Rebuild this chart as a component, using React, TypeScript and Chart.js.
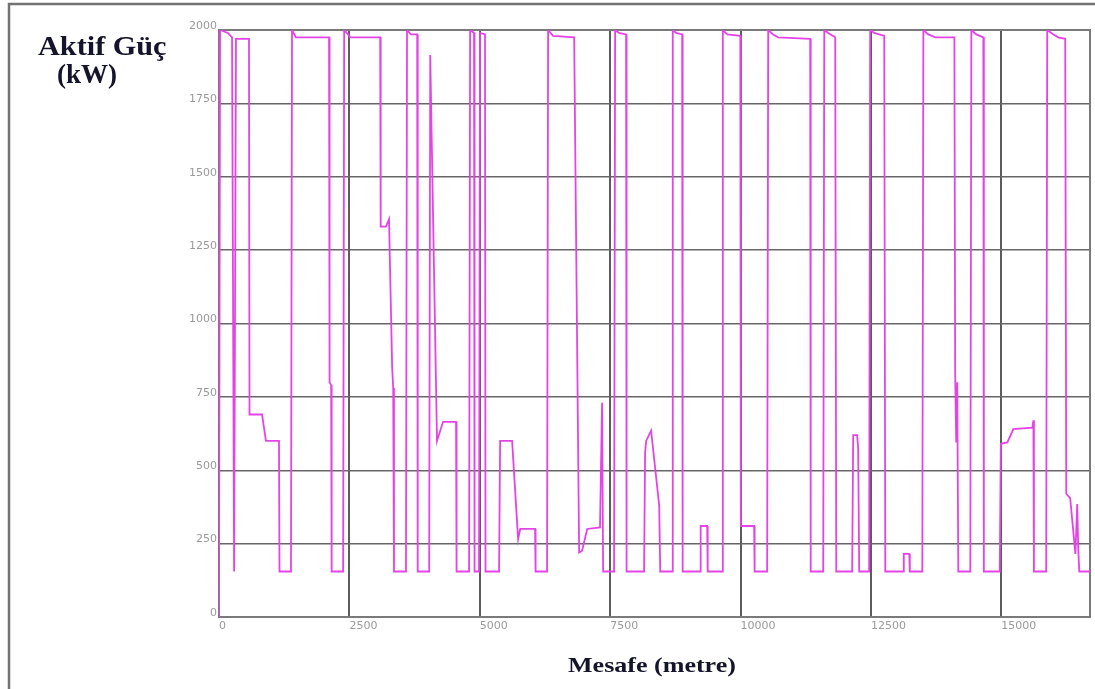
import React, { useEffect, useRef } from "react";
import { Chart, registerables } from "chart.js";

Chart.register(...registerables);

// Distance along the route (metre)
const distanceM = [
  0, 20, 170, 250, 290, 305, 325, 575, 585, 825, 900, 1150, 1160, 1380, 1400, 1475,
  2110, 2120, 2150, 2160, 2380, 2400, 2475, 2510, 3090, 3100, 3200, 3260, 3320, 3340,
  3355, 3585, 3605, 3680, 3800, 3810, 4030, 4050, 4180, 4295, 4545, 4555, 4795, 4815,
  4890, 4900, 4985, 5005, 5100, 5110, 5370, 5390, 5620, 5735, 5775, 6060, 6070, 6290,
  6310, 6405, 6810, 6905, 6960, 7060, 7305, 7345, 7365, 7575, 7595, 7670, 7805, 7815,
  8150, 8170, 8190, 8285, 8440, 8460, 8690, 8700, 8765, 8880, 8890, 9225, 9235, 9360,
  9370, 9650, 9660, 9745, 9995, 10005, 10260, 10270, 10510, 10530, 10625, 10720, 11335,
  11345, 11585, 11605, 11680, 11815, 11835, 12140, 12160, 12235, 12255, 12275, 12465,
  12485, 12565, 12755, 12775, 13120, 13130, 13235, 13245, 13485, 13505, 13600, 13735,
  14100, 14115, 14135, 14155, 14175, 14405, 14425, 14520, 14655, 14665, 14970, 14990,
  15115, 15230, 15595, 15615, 15625, 15860, 15880, 16000, 16090, 16225, 16245, 16320,
  16420, 16455, 16475, 16495, 16700,
];

// Active power (kW)
const activePowerKW = [
  0, 2000, 1990, 1975, 155, 155, 1970, 1970, 690, 690, 600, 600, 155, 155, 2000, 1975,
  1975, 800, 790, 155, 155, 2000, 1985, 1975, 1975, 1330, 1330, 1355, 850, 780,
  155, 155, 2000, 1985, 1985, 155, 155, 1915, 600, 665, 665, 155, 155, 2000,
  1990, 155, 155, 1990, 1985, 155, 155, 600, 600, 265, 300, 300, 155, 155,
  2000, 1980, 1975, 220, 225, 300, 305, 730, 155, 155, 2000, 1990, 1985, 155,
  155, 560, 600, 635, 380, 155, 155, 2000, 1990, 1985, 155, 155, 310, 310,
  155, 155, 2000, 1985, 1980, 310, 310, 155, 155, 2000, 1985, 1975, 1970,
  155, 155, 2000, 1990, 1975, 155, 155, 620, 620, 575, 155, 155,
  2000, 1990, 1980, 155, 155, 215, 215, 155, 155, 2000, 1985, 1975,
  1975, 830, 595, 800, 155, 155, 2000, 1985, 1975, 155, 155, 590,
  595, 640, 645, 670, 155, 155, 2000, 1985, 1975, 1970, 420, 405,
  215, 385, 230, 155, 155,
];

const xTickValues = [0, 2500, 5000, 7500, 10000, 12500, 15000];
const yTickValues = [0, 250, 500, 750, 1000, 1250, 1500, 1750, 2000];
const xMax = 16700;
const yMax = 2000;

const yTitleLines = ["Aktif Güç", "(kW)"];
const xTitle = "Mesafe (metre)";

function stretchedText(
  ctx: CanvasRenderingContext2D,
  text: string,
  x: number,
  y: number,
  font: string,
  sx: number
) {
  ctx.save();
  ctx.font = font;
  ctx.translate(x, y);
  ctx.scale(sx, 1);
  ctx.fillText(text, 0, 0);
  ctx.restore();
}

export default function App() {
  const canvasRef = useRef<HTMLCanvasElement>(null);

  useEffect(() => {
    if (!canvasRef.current) return;

    const framePlugin = {
      id: "framePlugin",
      beforeDatasetsDraw(chart: any) {
        const { ctx, chartArea: a } = chart;
        ctx.save();
        ctx.strokeStyle = "#7a7a7a";
        ctx.lineWidth = 2;
        ctx.strokeRect(a.left, a.top, a.right - a.left, a.bottom - a.top);
        ctx.restore();
      },
      afterDraw(chart: any) {
        const { ctx } = chart;
        ctx.save();
        // outer picture frame
        ctx.strokeStyle = "#737373";
        ctx.lineWidth = 2.5;
        ctx.beginPath();
        ctx.moveTo(9, 689);
        ctx.lineTo(9, 4);
        ctx.lineTo(1095, 4);
        ctx.stroke();
        // titles
        ctx.fillStyle = "#14142a";
        ctx.textBaseline = "alphabetic";
        ctx.textAlign = "left";
        stretchedText(ctx, yTitleLines[0], 38, 55, "bold 27px 'Liberation Serif'", 1.12);
        stretchedText(ctx, yTitleLines[1], 57, 83, "bold 27px 'Liberation Serif'", 1.0);
        stretchedText(ctx, xTitle, 568, 672, "bold 21px 'Liberation Serif'", 1.24);
        ctx.restore();
      },
    };

    const chart = new Chart(canvasRef.current, {
      type: "line",
      data: {
        datasets: [
          {
            label: "Aktif Güç",
            data: distanceM.map((d, i) => ({ x: d, y: activePowerKW[i] })),
            borderColor: "#e444e6",
            borderWidth: 1.8,
            pointRadius: 0,
            tension: 0,
            fill: false,
          },
        ],
      },
      options: {
        animation: false,
        responsive: true,
        maintainAspectRatio: false,
        layout: { padding: { left: 0, right: 5, top: 30, bottom: 0 } },
        plugins: {
          legend: { display: false },
          tooltip: { enabled: false },
        },
        scales: {
          x: {
            type: "linear",
            min: 0,
            max: xMax,
            afterBuildTicks: (scale: any) => {
              scale.ticks = xTickValues.map((v) => ({ value: v }));
            },
            afterFit: (scale: any) => {
              scale.height = 72;
            },
            ticks: {
              align: "start",
              autoSkip: false,
              maxRotation: 0,
              padding: 3,
              color: "#9a9a9a",
              font: { family: "'DejaVu Sans'", size: 11 },
              callback: (v: any) => String(v),
            },
            grid: {
              color: "#5c5c5c",
              lineWidth: 2,
              drawTicks: false,
            },
            border: { display: true, color: "#7a7a7a", width: 2 },
          },
          y: {
            type: "linear",
            min: 0,
            max: yMax,
            afterBuildTicks: (scale: any) => {
              scale.ticks = yTickValues.map((v) => ({ value: v }));
            },
            afterFit: (scale: any) => {
              scale.width = 219;
            },
            ticks: {
              autoSkip: false,
              padding: 2,
              labelOffset: -4,
              color: "#9a9a9a",
              font: { family: "'DejaVu Sans'", size: 11 },
              callback: (v: any) => String(v),
            },
            grid: {
              color: "#666666",
              lineWidth: 1.5,
              drawTicks: false,
            },
            border: { display: true, color: "#7a7a7a", width: 2 },
          },
        },
      },
      plugins: [framePlugin],
    });

    return () => chart.destroy();
  }, []);

  return (
    <div
      style={{
        position: "absolute",
        left: 0,
        top: 0,
        width: 1095,
        height: 689,
        background: "#ffffff",
        overflow: "hidden",
      }}
    >
      <canvas ref={canvasRef} />
    </div>
  );
}
